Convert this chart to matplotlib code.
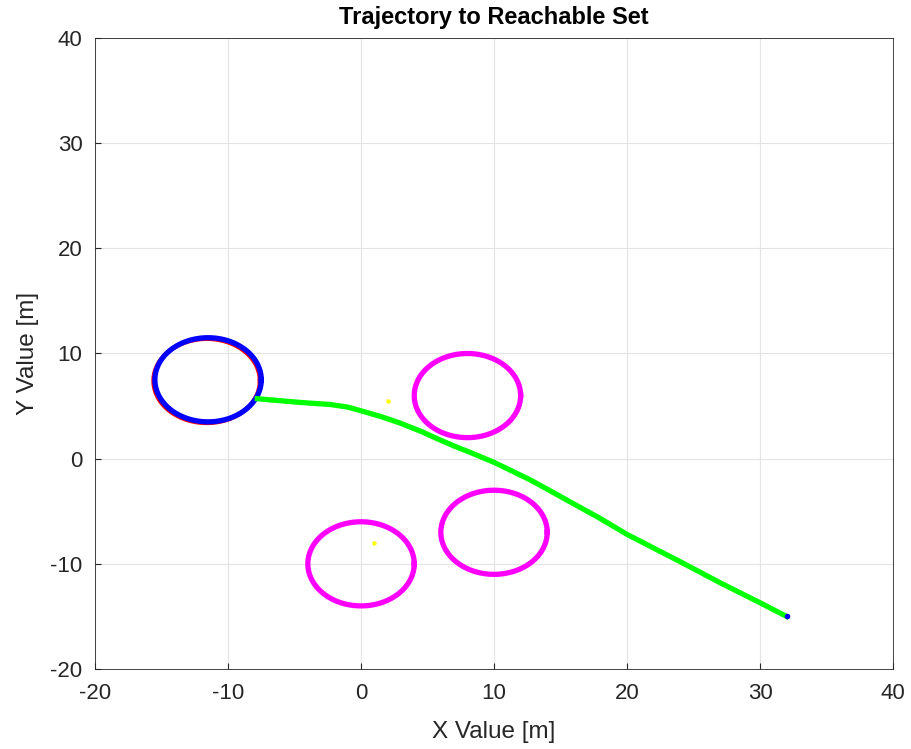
import numpy as np
import matplotlib
matplotlib.use('Agg')
import matplotlib.pyplot as plt

plt.rcParams['font.family'] = ['Liberation Sans', 'DejaVu Sans']
plt.rcParams['axes.unicode_minus'] = False

# obstaculos (centro x, centro y, radio)
obs_x = [8, 10, 0]
obs_y = [6, -7, -10]
obs_r = [4, 4, 4]

# conjunto alcanzable
reach_x = -11.5
reach_y = 7.5
reach_r = 4

# trayectoria
traj_x = [-7.8, -6.0, -4.6, -3.5, -2.3, -1.0, 0.0, 1.5, 2.9, 4.5, 5.9, 7.0, 8.2, 10.0, 12.7, 15.0, 18.0, 20.0, 24.0, 27.0, 30.0, 32.0]
traj_y = [5.7, 5.5, 5.35, 5.25, 5.15, 4.9, 4.55, 4.0, 3.4, 2.6, 1.8, 1.2, 0.6, -0.35, -2.0, -3.6, -5.7, -7.2, -9.8, -11.8, -13.7, -15.0]

# puntos amarillos
pts_x = [2, 1]
pts_y = [5.5, -8]

t = np.linspace(0, 2*np.pi, 200)

fig = plt.figure(figsize=(9.12, 7.49), dpi=100)
ax = fig.add_axes([0.1042, 0.1068, 0.875, 0.8425])

for cx, cy, r in zip(obs_x, obs_y, obs_r):
    ax.plot(cx + r*np.cos(t), cy + r*np.sin(t), color='#ff00ff', lw=3.8)

ax.plot(reach_x - 0.1 + reach_r*np.cos(t), reach_y - 0.1 + reach_r*np.sin(t), color='red', lw=3.2)
ax.plot(reach_x + reach_r*np.cos(t), reach_y + reach_r*np.sin(t), color='blue', lw=3.8)

ax.plot(traj_x, traj_y, color='#00ff00', lw=3.8, solid_joinstyle='round')
ax.plot(traj_x[-1], traj_y[-1], 'o', color='blue', ms=3)
ax.plot(pts_x, pts_y, 'o', color='yellow', ms=3.2, mec='none')

ax.set_xlim(-20, 40)
ax.set_ylim(-20, 40)
ax.set_xticks(range(-20, 41, 10))
ax.set_yticks(range(-20, 41, 10))
ax.grid(True, color='#e3e3e3', lw=0.8)
ax.set_axisbelow(True)
ax.tick_params(direction='in', labelsize=16, colors='#262626', length=4)
ax.tick_params(axis='x', pad=10)
ax.tick_params(axis='y', pad=9)
for s in ax.spines.values():
    s.set_color('#262626')
    s.set_linewidth(0.6)

ax.set_xlabel('X Value [m]', fontsize=17.5, color='#262626', labelpad=12)
ax.set_ylabel('Y Value [m]', fontsize=17.5, color='#262626', labelpad=8)
ax.set_title('Trajectory to Reachable Set', fontsize=17, fontweight='bold', pad=10)

fig.savefig('out.png', dpi=100)
